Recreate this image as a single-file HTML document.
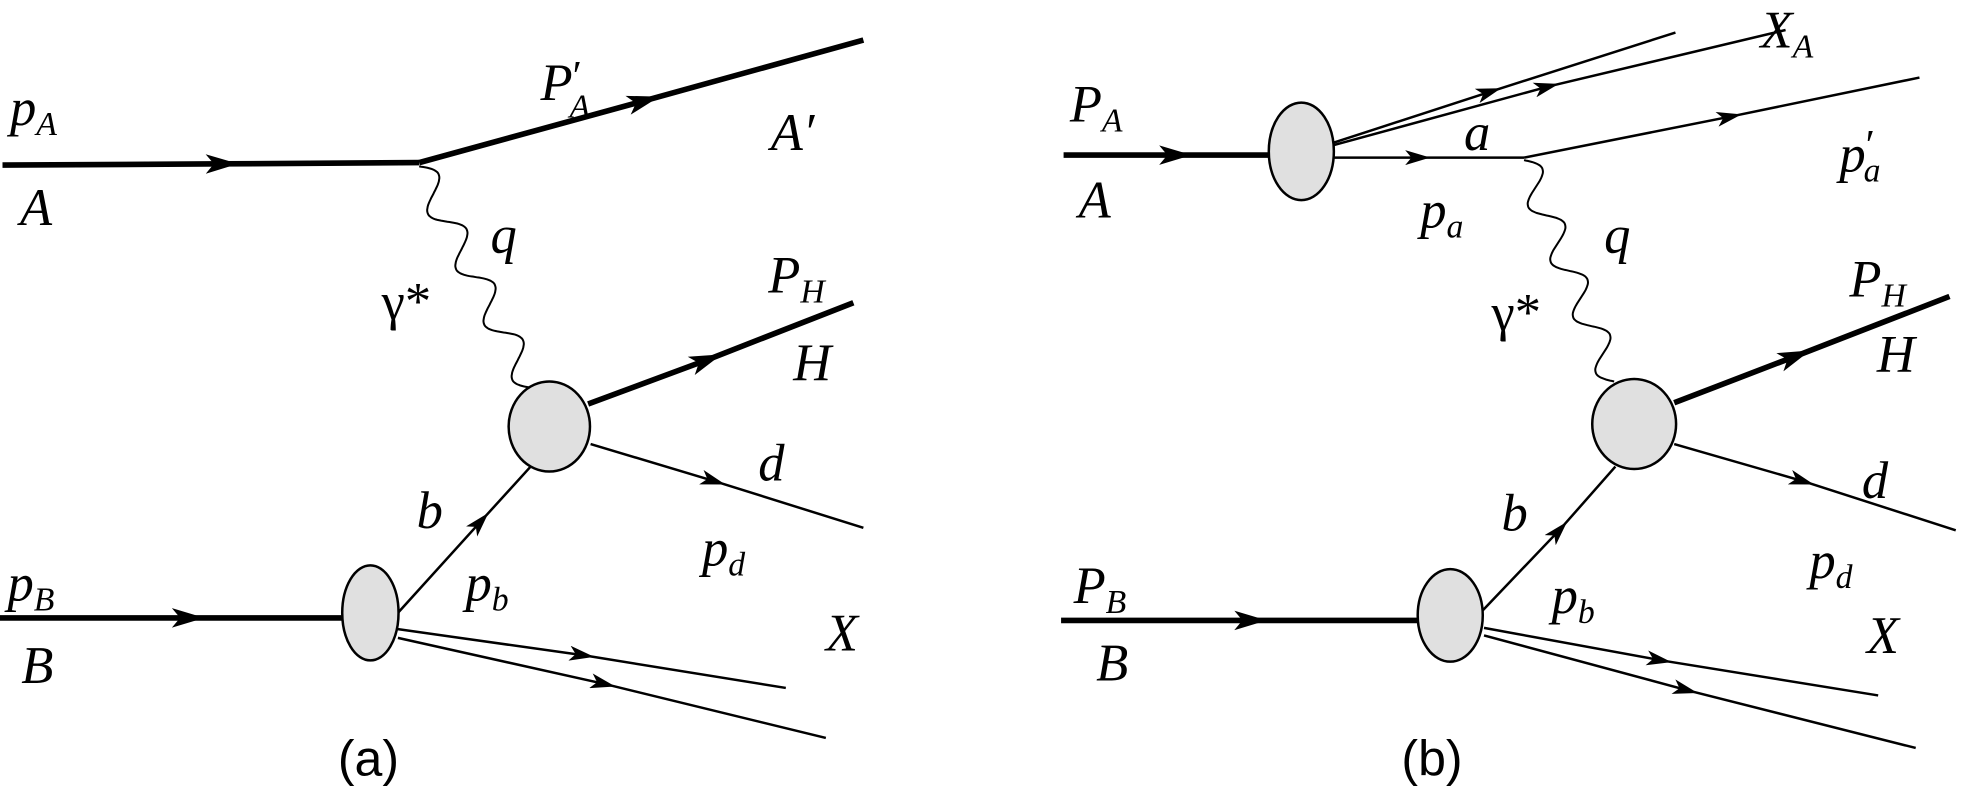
<!DOCTYPE html>
<html><head><meta charset="utf-8"><style>
html,body{margin:0;padding:0;background:#fff;}
svg{display:block;}
text{font-family:"Liberation Serif",serif;font-style:italic;font-size:42px;fill:#000;}
.s{font-size:27px;}
.pr{font-size:34px;font-style:normal;}
.cap{font-family:"Liberation Sans",sans-serif;font-style:normal;font-size:40px;}
</style></head><body>
<svg id="sv" width="1962" height="788" viewBox="0 0 1568 630" preserveAspectRatio="none" xmlns="http://www.w3.org/2000/svg">
<defs>
<marker id="ar" viewBox="0 0 20 12" refX="12" refY="6" markerWidth="20" markerHeight="12" markerUnits="userSpaceOnUse" orient="auto">
<path d="M0,0 L20,6 L0,12 L5,6 Z" fill="#000"/>
</marker>
<marker id="ab" viewBox="0 0 20 12" refX="12" refY="6" markerWidth="26" markerHeight="16" markerUnits="userSpaceOnUse" orient="auto">
<path d="M0,0 L20,6 L0,12 L5,6 Z" fill="#000"/>
</marker>
</defs>
<g fill="none" stroke="#000" stroke-linecap="butt">
<!-- Panel a -->
<path d="M2,132 L180,131 L335,130" stroke-width="4.5" marker-mid="url(#ab)"/>
<path d="M335,130 L517,80 L690,32" stroke-width="4.5" marker-mid="url(#ab)"/>
<path d="M470,323 L567,287 L682,242" stroke-width="4.5" marker-mid="url(#ab)"/>
<path d="M472,355 L572,385 L690,422" stroke-width="2" marker-mid="url(#ar)"/>
<path d="M0,494 L153,494 L274,494" stroke-width="4.5" marker-mid="url(#ab)"/>
<path d="M318,490 L385,416 L425,372" stroke-width="2" marker-mid="url(#ar)"/>
<path d="M318,503 L467,524 L628,550" stroke-width="2" marker-mid="url(#ar)"/>
<path d="M318,510 L484,547 L660,590" stroke-width="2" marker-mid="url(#ar)"/>
<path id="w1" stroke-width="1.6"/>
<!-- Panel b -->
<path d="M850,124 L942,124 L1015,124" stroke-width="4.5" marker-mid="url(#ab)"/>
<path d="M1066,114 L1192,73 L1339,26" stroke-width="2" marker-mid="url(#ar)"/>
<path d="M1066,116 L1238,69 L1427,24" stroke-width="2" marker-mid="url(#ar)"/>
<path d="M1066,126 L1135,126 L1218,126" stroke-width="2" marker-mid="url(#ar)"/>
<path d="M1218,126 L1384,93 L1534,62" stroke-width="2" marker-mid="url(#ar)"/>
<path d="M1338,322 L1437,284 L1558,237" stroke-width="4.5" marker-mid="url(#ab)"/>
<path d="M1338,355 L1442,385 L1563,424" stroke-width="2" marker-mid="url(#ar)"/>
<path d="M848,496 L1002,496 L1133,496" stroke-width="4.5" marker-mid="url(#ab)"/>
<path d="M1185,488 L1247,423 L1291,373" stroke-width="2" marker-mid="url(#ar)"/>
<path d="M1186,502 L1328,528 L1501,556" stroke-width="2" marker-mid="url(#ar)"/>
<path d="M1186,508 L1349,552 L1531,598" stroke-width="2" marker-mid="url(#ar)"/>
<path id="w2" stroke-width="1.6"/>
</g>
<g fill="#e0e0e0" stroke="#000" stroke-width="2">
<ellipse cx="439" cy="341" rx="32.5" ry="36"/>
<ellipse cx="296" cy="490" rx="22.5" ry="38"/>
<ellipse cx="1040" cy="121" rx="26" ry="39"/>
<ellipse cx="1306" cy="339" rx="33.5" ry="36"/>
<ellipse cx="1159" cy="492" rx="26" ry="37"/>
</g>
<!-- labels a -->
<text x="8" y="100">p<tspan class="s" dy="8">A</tspan></text>
<text x="16" y="180">A</text>
<text x="432" y="80">P<tspan class="pr" dy="-8">′</tspan><tspan class="s" dx="-10" dy="22">A</tspan></text>
<text x="616" y="120">A′</text>
<text x="392" y="202">q</text>
<text x="305" y="255" style="font-style:normal">γ*</text>
<text x="614" y="234">P<tspan class="s" dy="8">H</tspan></text>
<text x="634" y="304">H</text>
<text x="606" y="384">d</text>
<text x="561" y="452">p<tspan class="s" dy="8">d</tspan></text>
<text x="333" y="422">b</text>
<text x="372" y="480">p<tspan class="s" dy="8">b</tspan></text>
<text x="6" y="480">p<tspan class="s" dy="8">B</tspan></text>
<text x="17" y="546">B</text>
<text x="660" y="520">X</text>
<text class="cap" x="270" y="620">(a)</text>
<!-- labels b -->
<text x="855" y="97">P<tspan class="s" dy="8">A</tspan></text>
<text x="862" y="174">A</text>
<text x="1407" y="38">X<tspan class="s" dy="8">A</tspan></text>
<text x="1170" y="120">a</text>
<text x="1135" y="182">p<tspan class="s" dy="8">a</tspan></text>
<text x="1470" y="137">p<tspan class="pr" dy="-10">′</tspan><tspan class="s" dx="-9" dy="18">a</tspan></text>
<text x="1282" y="202">q</text>
<text x="1192" y="264" style="font-style:normal">γ*</text>
<text x="1478" y="237">P<tspan class="s" dy="8">H</tspan></text>
<text x="1500" y="297">H</text>
<text x="1488" y="398">d</text>
<text x="1446" y="462">p<tspan class="s" dy="8">d</tspan></text>
<text x="1200" y="424">b</text>
<text x="1240" y="490">p<tspan class="s" dy="8">b</tspan></text>
<text x="858" y="482">P<tspan class="s" dy="8">B</tspan></text>
<text x="876" y="544">B</text>
<text x="1492" y="522">X</text>
<text class="cap" x="1120" y="620">(b)</text>
</svg>
<script>
function wig(id,x0,y0,x1,y1,n,a){
 var dx=x1-x0,dy=y1-y0,L=Math.hypot(dx,dy),ux=dx/L,uy=dy/L,px=uy,py=-ux,d="";
 for(var i=0;i<=200;i++){var t=i/200;var s=Math.sin(t*n*2*Math.PI)*a;
  var x=x0+dx*t+px*s,y=y0+dy*t+py*s;d+=(i?"L":"M")+x.toFixed(1)+","+y.toFixed(1);}
 document.getElementById(id).setAttribute("d",d);
}
wig("w1",335,133,425,310,4,11);
wig("w2",1218,128,1290,305,4,11);
</script>
</body></html>
